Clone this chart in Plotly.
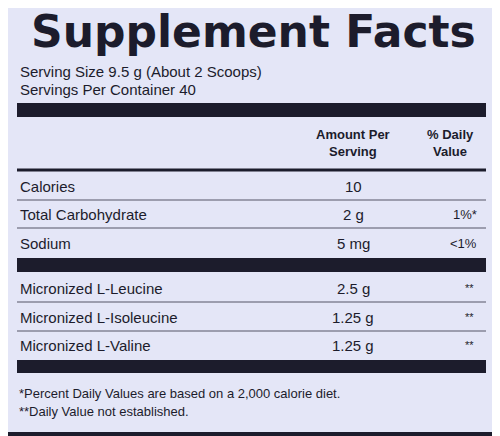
import plotly.graph_objects as go

rows1 = ["Calories", "Total Carbohydrate", "Sodium"]
amounts1 = ["10", "2 g", "5 mg"]
dv1 = ["", "1%*", "<1%"]
rows2 = ["Micronized L-Leucine", "Micronized L-Isoleucine", "Micronized L-Valine"]
amounts2 = ["2.5 g", "1.25 g", "1.25 g"]
dv2 = ["**", "**", "**"]
y1 = [186, 214, 243]
y2 = [288, 317, 345]

INK = "#1c1c2c"
BG = "#e4e6f7"
F = "Liberation Sans, Arial, sans-serif"

fig = go.Figure()
shapes = []
ann = []
def rect(x0, y0, x1, y1, **kw):
    shapes.append(dict(type="rect", x0=x0, x1=x1, y0=y0, y1=y1, xref="x", yref="y", **kw))
def line(y, w=1, col="#555566"):
    shapes.append(dict(type="line", x0=17, x1=486, y0=y, y1=y, xref="x", yref="y", line=dict(color=col, width=w)))
def text(x, y, s, size=15, anchor="left", bold=False, fam=F):
    ann.append(dict(x=x, y=y, xref="x", yref="y", text=("<b>%s</b>" % s) if bold else s, showarrow=False,
                    xanchor=anchor, yanchor="middle", font=dict(family=fam, size=size, color=INK)))

rect(2, 2, 498, 434, line=dict(color=INK, width=4), fillcolor=BG, layer="below")
text(253, 31, "Supplement Facts", size=44, anchor="center", bold=True, fam="DejaVu Sans")
text(18, 71, "Serving Size 9.5 g (About 2 Scoops)", size=15)
text(18, 89, "Servings Per Container 40", size=15)
rect(17, 103, 486, 117, fillcolor=INK, line=dict(width=0))
text(353, 134, "Amount Per", size=13, anchor="center", bold=True)
text(353, 151, "Serving", size=13, anchor="center", bold=True)
text(450, 134, "% Daily", size=13, anchor="center", bold=True)
text(450, 151, "Value", size=13, anchor="center", bold=True)
line(170, 3, INK)
for i, (r, a, d) in enumerate(zip(rows1, amounts1, dv1)):
    text(18, y1[i], r)
    text(353, y1[i], a, anchor="center")
    text(479, y1[i], d, size=13, anchor="right")
    if i < 2:
        line(y1[i] + 14)
rect(17, 258, 486, 272, fillcolor=INK, line=dict(width=0))
for i, (r, a, d) in enumerate(zip(rows2, amounts2, dv2)):
    text(18, y2[i], r)
    text(353, y2[i], a, anchor="center")
    text(476, y2[i], d, size=11, anchor="right")
    if i < 2:
        line(y2[i] + 14)
rect(17, 360, 486, 373, fillcolor=INK, line=dict(width=0))
text(17, 393, "*Percent Daily Values are based on a 2,000 calorie diet.", size=13)
text(17, 411, "**Daily Value not established.", size=13)

fig.update_layout(width=500, height=436, margin=dict(l=0, r=0, t=0, b=0),
                  paper_bgcolor=BG, plot_bgcolor=BG, shapes=shapes, annotations=ann,
                  xaxis=dict(range=[8, 508], visible=False, fixedrange=True),
                  yaxis=dict(range=[444, 8], visible=False, fixedrange=True),
                  showlegend=False)
fig.write_html("out.html")
